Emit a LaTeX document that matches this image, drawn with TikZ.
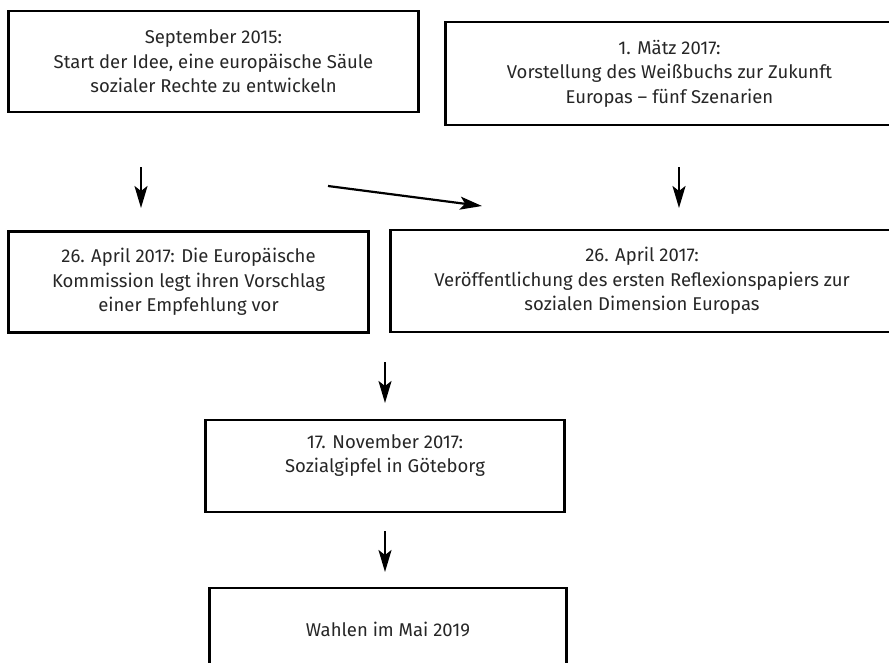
\documentclass[tikz,border=0pt]{standalone}
\usepackage{fontspec}
\setmainfont{Fira Sans}
\usetikzlibrary{arrows.meta}
\tikzset{
  box/.style = {draw, line width=2.8pt, align=center, inner sep=0pt,
    font=\fontsize{18.5}{24.5}\selectfont, text=black!85},
  pfeil/.style = {-{Stealth[length=22pt, width=13pt, inset=5pt]}, line width=2.2pt},
}

\begin{document}
\begin{tikzpicture}[x=1pt, y=-1pt]
    \useasboundingbox (0,0) rectangle (889,662);
    \clip (0,0) rectangle (889,662);
    \node [box, minimum width=410pt, minimum height=101pt] (idee) at (213.5,61.5)
      {September 2015:\\Start der Idee, eine europäische Säule\\sozialer Rechte zu entwickeln};
    \node [box, minimum width=448pt, minimum height=103pt] (weissbuch) at (669.5,73.5)
      {1. Mätz 2017:\\Vorstellung des Weißbuchs zur Zukunft\\Europas -- fünf Szenarien};
    \node [box, minimum width=360pt, minimum height=101pt] (kommission) at (188.5,282)
      {26. April 2017: Die Europäische\\Kommission legt ihren Vorschlag\\einer Empfehlung vor};
    \node [box, minimum width=503pt, minimum height=102pt] (reflexion) at (642,281)
      {26. April 2017:\\Veröffentlichung des ersten Reflexionspapiers zur\\sozialen Dimension Europas};
    \node [box, minimum width=359pt, minimum height=92pt] (gipfel) at (385,466)
      {17. November 2017:\\Sozialgipfel in Göteborg\\\mbox{}};
    \node [box, minimum width=357pt, minimum height=82pt] (wahlen) at (388,629)
      {Wahlen im Mai 2019};
    % arrow ends in the gaps
    \coordinate (p1) at (141,167);
    \coordinate (q1) at (141,208);
    \coordinate (p2) at (328,186);
    \coordinate (q2) at (482,206);
    \coordinate (p3) at (679,167);
    \coordinate (q3) at (679,208);
    \coordinate (p4) at (385,362);
    \coordinate (q4) at (385,403);
    \coordinate (p5) at (385,531);
    \coordinate (q5) at (385,572);
    \draw [pfeil] (p1) -- (q1);
    \draw [pfeil] (p2) -- (q2);
    \draw [pfeil] (p3) -- (q3);
    \draw [pfeil] (p4) -- (q4);
    \draw [pfeil] (p5) -- (q5);
\end{tikzpicture}
\end{document}
